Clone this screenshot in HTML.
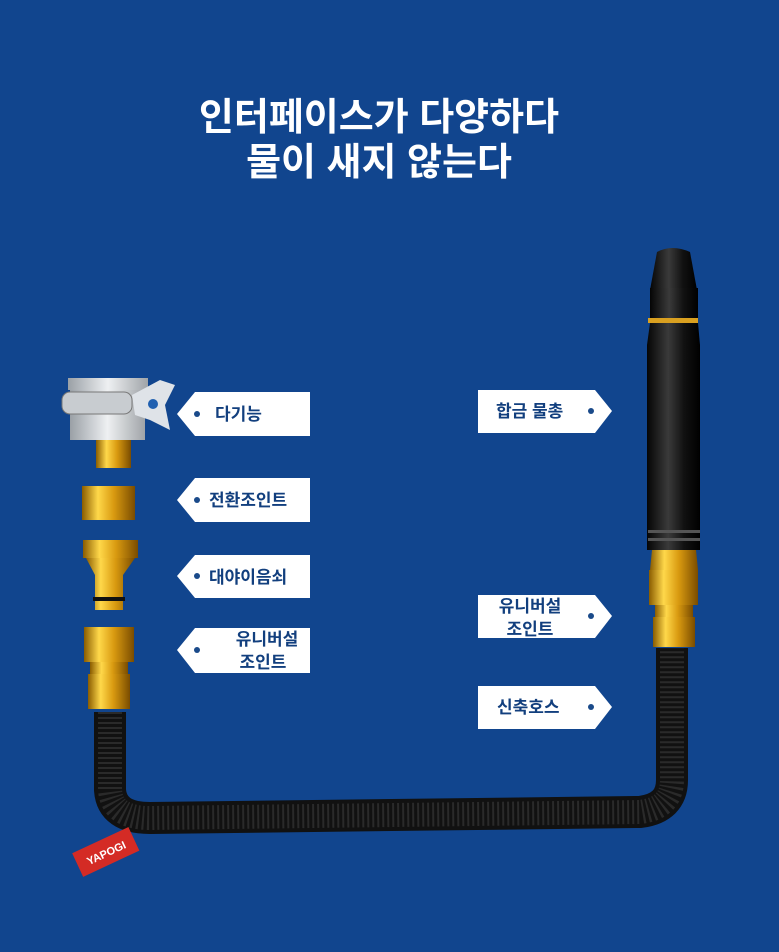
<!DOCTYPE html>
<html><head><meta charset="utf-8"><style>
body{margin:0;background:#11458e;}
svg{display:block}
text{font-family:"Liberation Sans","Noto Sans CJK KR",sans-serif;font-weight:bold}
</style></head><body>
<svg width="779" height="952" viewBox="0 0 779 952">
<defs>
<linearGradient id="gold" x1="0" x2="1"><stop offset="0" stop-color="#8a5c00"/><stop offset=".3" stop-color="#ffd84a"/><stop offset=".6" stop-color="#d99a10"/><stop offset="1" stop-color="#7a4c00"/></linearGradient>
<linearGradient id="blk" x1="0" x2="1"><stop offset="0" stop-color="#050505"/><stop offset=".4" stop-color="#3a3a3a"/><stop offset=".7" stop-color="#111"/><stop offset="1" stop-color="#000"/></linearGradient>
<linearGradient id="sil" x1="0" x2="1"><stop offset="0" stop-color="#9aa0a6"/><stop offset=".5" stop-color="#eef0f2"/><stop offset="1" stop-color="#a0a4a8"/></linearGradient>
</defs>
<rect width="779" height="952" fill="#11458e"/>
<text x="379" y="130" fill="#fff" font-size="38" text-anchor="middle">인터페이스가 다양하다</text>
<text x="379" y="175" fill="#fff" font-size="38" text-anchor="middle">물이 새지 않는다</text>

<!-- hose -->
<path d="M110 712 L110 790 Q112 818 150 818 L640 812 Q672 808 672 780 L672 648" fill="none" stroke="#111" stroke-width="32"/>
<path d="M110 712 L110 790 Q112 818 150 818 L640 812 Q672 808 672 780 L672 648" fill="none" stroke="#2a2a2a" stroke-width="24" stroke-dasharray="2 3"/>
<!-- tag -->
<g transform="rotate(-25 108 852)"><rect x="75" y="838" width="62" height="26" fill="#d42b25"/><text x="106" y="856" fill="#fff" font-size="11" text-anchor="middle">YAPOGI</text></g>

<!-- nozzle -->
<path d="M657 252 Q672 244 690 252 L697 290 L650 290 Z" fill="url(#blk)"/>
<rect x="650" y="288" width="48" height="30" fill="url(#blk)"/>
<rect x="648" y="318" width="50" height="5" fill="#d9a020"/>
<path d="M650 323 L698 323 L700 345 L700 550 L647 550 L647 345 Z" fill="url(#blk)"/>
<rect x="648" y="530" width="52" height="3" fill="#555"/>
<rect x="648" y="538" width="52" height="3" fill="#555"/>
<path d="M652 550 L696 550 L698 570 L650 570 Z" fill="url(#gold)"/>
<rect x="649" y="570" width="49" height="35" fill="url(#gold)"/>
<rect x="655" y="605" width="38" height="12" fill="url(#gold)"/>
<rect x="653" y="617" width="42" height="30" fill="url(#gold)"/>

<!-- left fittings -->
<rect x="68" y="378" width="80" height="12" fill="url(#sil)"/>
<rect x="70" y="390" width="75" height="50" fill="url(#sil)"/>
<rect x="62" y="392" width="70" height="22" rx="8" fill="#c8ccd0" stroke="#777"/>
<path d="M132 395 L160 380 L175 385 L165 405 L170 430 L150 420 L135 415 Z" fill="#dfe3e8"/>
<circle cx="153" cy="404" r="5" fill="#2060b0"/>
<rect x="96" y="440" width="35" height="28" fill="url(#gold)"/>
<rect x="82" y="486" width="53" height="34" fill="url(#gold)"/>
<rect x="83" y="540" width="55" height="18" fill="url(#gold)"/>
<path d="M86 558 L135 558 L123 575 L123 610 L95 610 L95 575 Z" fill="url(#gold)"/>
<rect x="93" y="597" width="32" height="4" fill="#111"/>
<rect x="84" y="627" width="50" height="35" fill="url(#gold)"/>
<rect x="90" y="662" width="38" height="12" fill="url(#gold)"/>
<rect x="88" y="674" width="42" height="35" fill="url(#gold)"/>

<g fill="#fff">
<path d="M195 392 H310 V436 H195 L177 414 Z"/>
<path d="M195 478 H310 V522 H195 L177 500 Z"/>
<path d="M195 555 H310 V598 H195 L177 576 Z"/>
<path d="M195 628 H310 V673 H195 L177 650 Z"/>
<path d="M478 390 H595 L612 411 L595 433 H478 Z"/>
<path d="M478 595 H595 L612 616 L595 638 H478 Z"/>
<path d="M478 686 H595 L612 707 L595 729 H478 Z"/>
</g>
<g fill="#1a4a8a">
<circle cx="197" cy="414" r="3"/><circle cx="197" cy="500" r="3"/><circle cx="197" cy="576" r="3"/><circle cx="197" cy="650" r="3"/>
<circle cx="591" cy="411" r="3"/><circle cx="591" cy="616" r="3"/><circle cx="591" cy="707" r="3"/>
</g>
<g fill="#123f7e" font-size="17">
<text x="215" y="420">다기능</text>
<text x="209" y="506">전환조인트</text>
<text x="209" y="583">대야이음쇠</text>
<text x="267" y="645" text-anchor="middle">유니버설</text>
<text x="263" y="668" text-anchor="middle">조인트</text>
<text x="496" y="417">합금 물총</text>
<text x="530" y="612" text-anchor="middle">유니버설</text>
<text x="530" y="635" text-anchor="middle">조인트</text>
<text x="497" y="713">신축호스</text>
</g>
</svg>
</body></html>
